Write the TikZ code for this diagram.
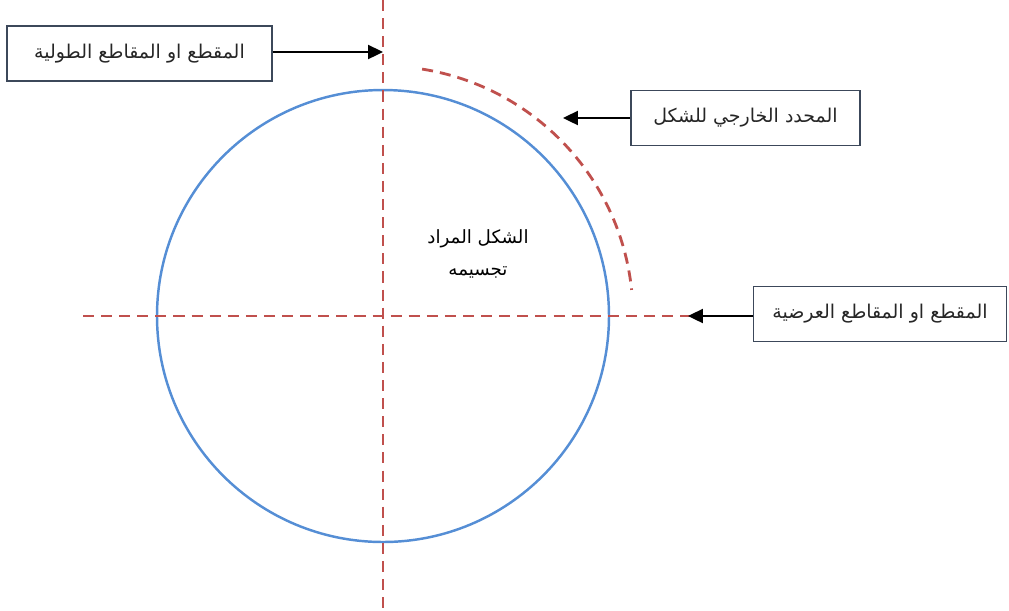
\documentclass[tikz,border=0pt]{standalone}
\usepackage{fontspec}
\usetikzlibrary{arrows.meta}
\TeXXeTstate=1
\newfontfamily\arabicfont[Script=Arabic]{DejaVu Sans}
\definecolor{cutred}{RGB}{192,80,77}
\definecolor{shapeblue}{RGB}{85,142,213}
\definecolor{boxline}{RGB}{60,72,90}
\begin{document}
\begin{tikzpicture}[x=0.02cm,y=-0.02cm,
    cutline/.style={draw=cutred,line width=1.6pt,dash pattern=on 6.3pt off 4pt},
    labelbox/.style={draw=boxline,line width=1pt,minimum height=1.1cm,inner sep=0pt,
      font=\arabicfont\fontsize{10.8}{13}\selectfont,text=black!85},
    pointer/.style={-{Triangle[length=8.5pt,width=8pt]},line width=1.1pt}]
    \useasboundingbox (0,0) rectangle (1009,610);
    % the shape and its outer boundary
    \draw[shapeblue,line width=1.4pt] (383,316) circle (226);
    \draw[cutline] (383,316) ++(-81:250) arc (-81:-6:250);
    % cutting lines
    \coordinate (vtop) at (383,0);
    \coordinate (vbot) at (383,610);
    \coordinate (hleft) at (83,316);
    \coordinate (hright) at (690,316);
    \draw[cutline] (vtop) -- (vbot);
    \draw[cutline] (hleft) -- (hright);
    % labels
    \node[labelbox,minimum width=5.3cm] (longcut) at (139.5,53.5) {\beginR المقطع او المقاطع الطولية\endR};
    \node[labelbox,minimum width=4.58cm] (outline) at (745.5,118) {\beginR المحدد الخارجي للشكل\endR};
    \node[labelbox,minimum width=5.06cm] (crosscut) at (880,314) {\beginR المقطع او المقاطع العرضية\endR};
    \node[align=center,font=\arabicfont\fontsize{10.4}{18}\selectfont] (shape) at (478,254)
      {\beginR الشكل المراد\endR\\\beginR تجسيمه\endR};
    \coordinate (longtip) at (383,52);
    \coordinate (outlinetip) at (563,118);
    \coordinate (crosstip) at (688,316);
    \draw[pointer] (longcut.east |- longtip) -- (longtip);
    \draw[pointer] (outline.west) -- (outlinetip);
    \draw[pointer] (crosscut.west |- crosstip) -- (crosstip);
  \end{tikzpicture}
\end{document}
